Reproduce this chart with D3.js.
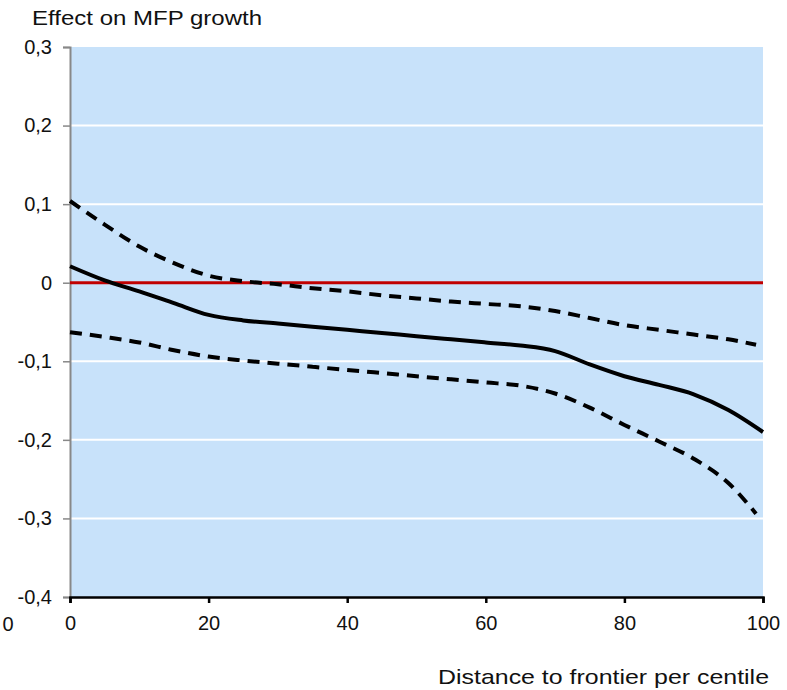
<!DOCTYPE html>
<html>
<head>
<meta charset="utf-8">
<script src="https://cdn.jsdelivr.net/npm/d3@7"></script>
<style>
  body { margin: 0; background: #fff; }
  text { font-family: "Liberation Sans", Arial, sans-serif; }
</style>
</head>
<body>
<div id="chart"></div>
<script>
// centiles at which the curves were read
const centiles = [0, 5, 10, 15, 20, 25, 30, 35, 40, 45, 50, 55, 60, 65, 70, 75, 80, 85, 90, 95, 100];
const centilesBand = [0, 5, 10, 15, 20, 25, 30, 35, 40, 45, 50, 55, 60, 65, 70, 75, 80, 85, 90, 95, 99];

const effect = [0.021, 0.003, -0.011, -0.026, -0.041, -0.048, -0.052, -0.056, -0.060, -0.064, -0.068,
  -0.072, -0.076, -0.080, -0.087, -0.104, -0.119, -0.130, -0.142, -0.162, -0.190];
const upper = [0.104, 0.074, 0.046, 0.025, 0.009, 0.002, -0.002, -0.007, -0.011, -0.016, -0.020,
  -0.024, -0.027, -0.030, -0.036, -0.045, -0.054, -0.060, -0.066, -0.072, -0.079];
const lower = [-0.063, -0.069, -0.076, -0.086, -0.094, -0.099, -0.103, -0.107, -0.111, -0.115, -0.119,
  -0.123, -0.127, -0.131, -0.141, -0.159, -0.181, -0.202, -0.224, -0.255, -0.294];

const yTicks = [0.3, 0.2, 0.1, 0, -0.1, -0.2, -0.3, -0.4];
const xTicks = [0, 20, 40, 60, 80, 100];

const width = 787, height = 690;
const margin = { top: 47, right: 24, bottom: 93, left: 70 };

const svg = d3.select("#chart").append("svg")
  .attr("width", width)
  .attr("height", height);

const x = d3.scaleLinear().domain([0, 100]).range([margin.left, width - margin.right]);
const y = d3.scaleLinear().domain([-0.4, 0.3]).range([height - margin.bottom, margin.top]);

// comma decimals, plain "0" at zero
const fmt = d => d === 0 ? "0" : d3.format(".1f")(d).replace(".", ",").replace("−", "-");

// plot background
svg.append("rect")
  .attr("x", x(0)).attr("y", y(0.3))
  .attr("width", x(100) - x(0)).attr("height", y(-0.4) - y(0.3))
  .attr("fill", "#c8e2fa");

// gridlines
svg.append("g").selectAll("line")
  .data(yTicks.filter(d => d !== -0.4 && d !== 0.3))
  .join("line")
  .attr("x1", x(0)).attr("x2", x(100))
  .attr("y1", d => y(d)).attr("y2", d => y(d))
  .attr("stroke", "#fff").attr("stroke-width", 2);

// y axis
const yAxis = svg.append("g")
  .attr("transform", `translate(${x(0)},0)`)
  .call(d3.axisLeft(y).tickValues(yTicks).tickFormat(fmt).tickSize(7).tickPadding(11));
yAxis.select(".domain").attr("stroke", "#888").attr("stroke-width", 2);
yAxis.selectAll(".tick line").attr("stroke", "#888").attr("stroke-width", 1.5);
yAxis.selectAll("text").attr("font-size", 20).attr("fill", "#111")
  .attr("font-family", "Liberation Sans, Arial, sans-serif");

// zero line
svg.append("line")
  .attr("x1", x(0)).attr("x2", x(100))
  .attr("y1", y(0)).attr("y2", y(0))
  .attr("stroke", "#c00000").attr("stroke-width", 3);

const line = d3.line().curve(d3.curveMonotoneX);

svg.append("path")
  .attr("d", line(centilesBand.map((c, i) => [x(c), y(upper[i])])))
  .attr("fill", "none").attr("stroke", "#000").attr("stroke-width", 4)
  .attr("stroke-dasharray", "12,8");

svg.append("path")
  .attr("d", line(centilesBand.map((c, i) => [x(c), y(lower[i])])))
  .attr("fill", "none").attr("stroke", "#000").attr("stroke-width", 4)
  .attr("stroke-dasharray", "12,8");

svg.append("path")
  .attr("d", line(centiles.map((c, i) => [x(c), y(effect[i])])))
  .attr("fill", "none").attr("stroke", "#000").attr("stroke-width", 4);

// x axis
const xAxis = svg.append("g")
  .attr("transform", `translate(0,${y(-0.4)})`)
  .call(d3.axisBottom(x).tickValues(xTicks).tickSize(6).tickPadding(13));
xAxis.select(".domain").attr("stroke", "#000").attr("stroke-width", 2.5);
xAxis.selectAll(".tick line").attr("stroke", "#000").attr("stroke-width", 2.5);
xAxis.selectAll("text").attr("font-size", 20).attr("fill", "#111")
  .attr("font-family", "Liberation Sans, Arial, sans-serif");

// titles
svg.append("text")
  .attr("x", 32).attr("y", 25)
  .attr("font-size", 21).attr("fill", "#111")
  .attr("textLength", 230).attr("lengthAdjust", "spacingAndGlyphs")
  .text("Effect on MFP growth");

svg.append("text")
  .attr("x", 438).attr("y", 684)
  .attr("font-size", 21).attr("fill", "#111")
  .attr("textLength", 331).attr("lengthAdjust", "spacingAndGlyphs")
  .text("Distance to frontier per centile");

// stray label at left
svg.append("text")
  .attr("x", 8).attr("y", 631)
  .attr("text-anchor", "middle")
  .attr("font-size", 20).attr("fill", "#111")
  .text("0");
</script>
</body>
</html>
